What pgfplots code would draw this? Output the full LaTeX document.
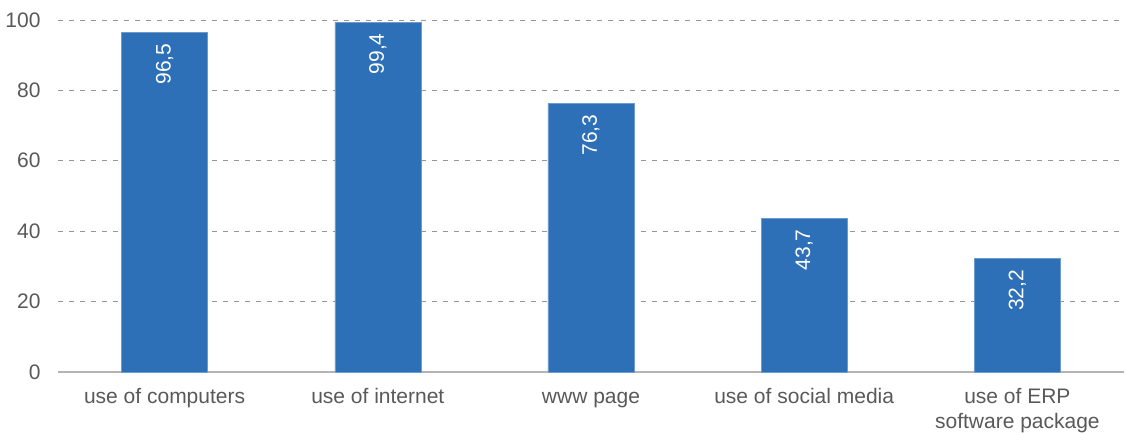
\documentclass[border=0pt]{standalone}
\usepackage{pgfplots}
\pgfplotsset{compat=1.18}
\usepackage{fontspec}
\setmainfont{Liberation Sans}
\definecolor{barblue}{RGB}{46,112,184}
\definecolor{txtgray}{RGB}{89,89,89}
\definecolor{gridgray}{RGB}{150,150,150}
\definecolor{axgray}{RGB}{180,180,180}
\begin{document}
\begin{tikzpicture}
\begin{axis}[
  at={(0pt,0pt)}, anchor=south west,
  scale only axis,
  width=1066pt, height=352pt,
  xmin=-0.5, xmax=4.5,
  ymin=0, ymax=100,
  ytick={0,20,40,60,80,100},
  xtick={0,1,2,3,4},
  xticklabels={use of computers, use of internet, www page, use of social media, {use of ERP\\software package}},
  typeset ticklabels with strut,
  xticklabel style={align=center, text=txtgray, font=\fontsize{21}{25}\selectfont, yshift=-10pt},
  yticklabel style={text=txtgray, font=\fontsize{21}{23}\selectfont, xshift=-14pt, yshift=-2.5pt},
  /pgf/number format/assume math mode=true,
  major tick length=0pt,
  axis x line*=bottom,
  axis y line*=left,
  x axis line style={draw=axgray, line width=1.3pt, -},
  y axis line style={draw=none},
  ymajorgrids,
  grid style={draw=gridgray, dash pattern=on 5pt off 6pt, line width=0.7pt},
  clip=false,
]
\addplot[ybar, bar width=86pt, fill=barblue, draw=barblue!70!white, line width=0.5pt,
  nodes near coords={\pgfmathprintnumber[fixed,fixed zerofill,precision=1,use comma,assume math mode=true]{\pgfplotspointmeta}},
  every node near coord/.append style={rotate=90, anchor=east, text=white, font=\fontsize{21}{23}\selectfont, inner sep=11pt},
] coordinates {(0,96.5) (1,99.4) (2,76.3) (3,43.7) (4,32.2)};
\end{axis}
\pgfresetboundingbox
\path (-58pt,-61pt) rectangle (1069pt,372pt);
\end{tikzpicture}
\end{document}
